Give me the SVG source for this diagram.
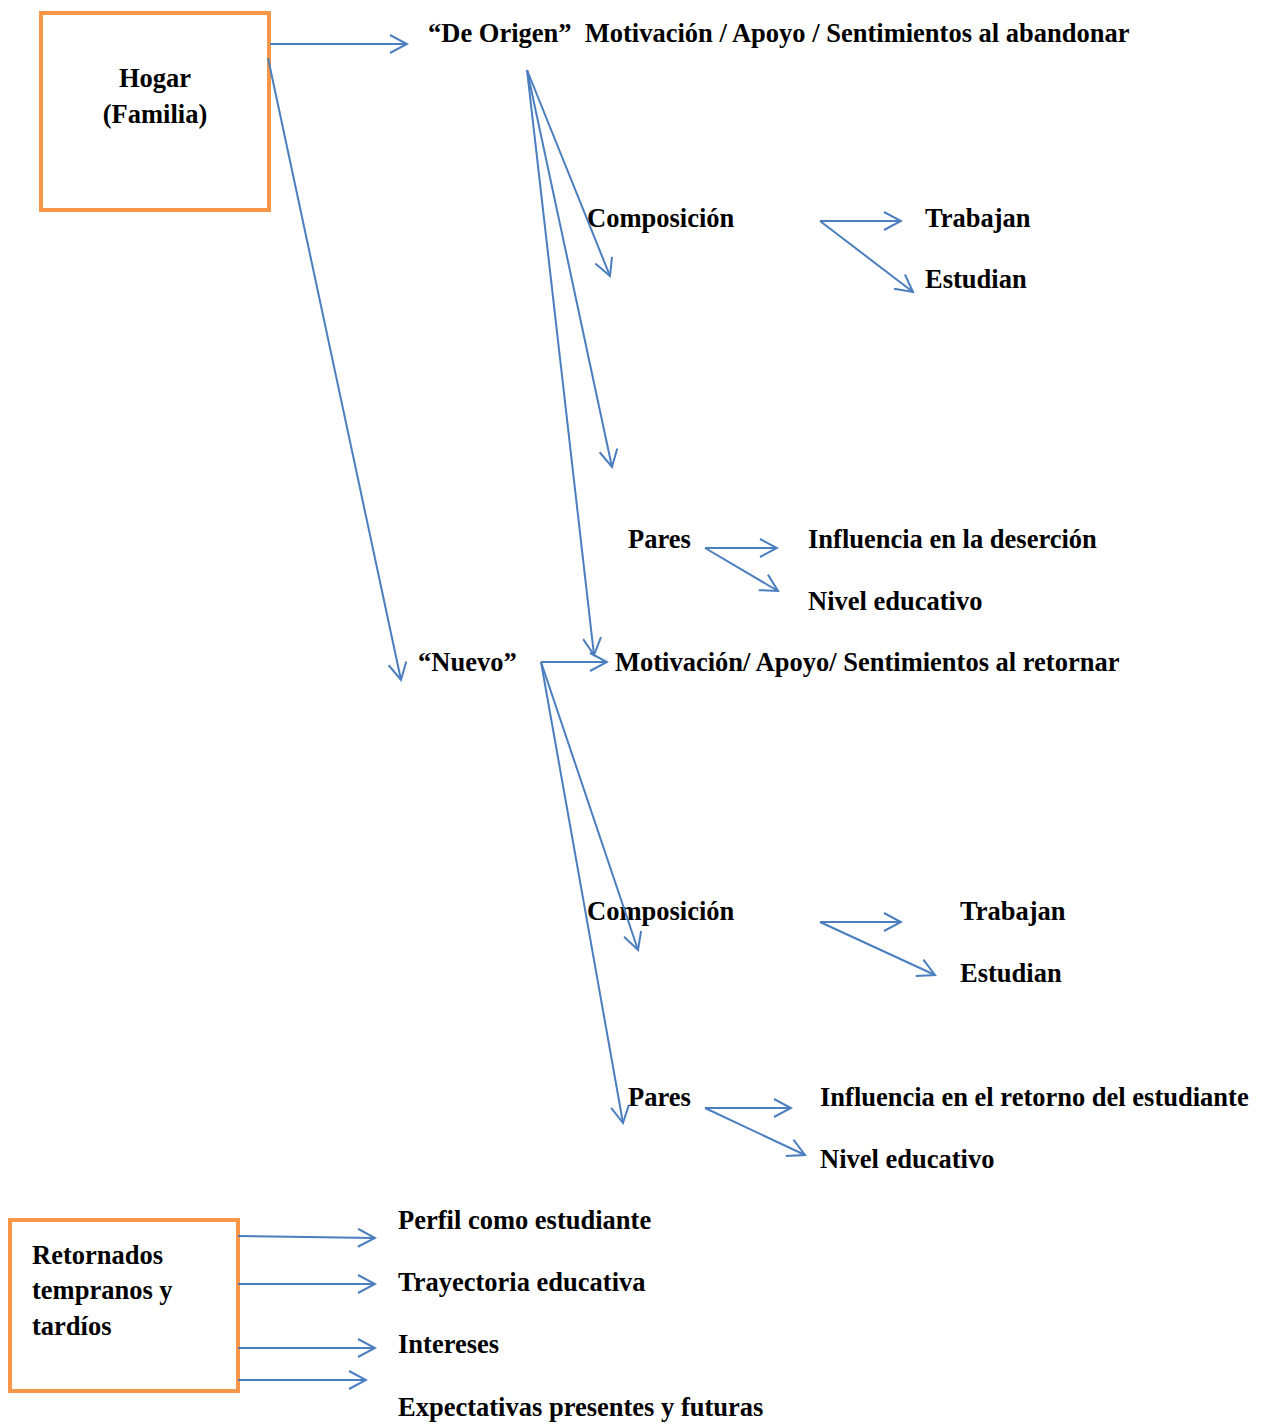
<svg xmlns="http://www.w3.org/2000/svg" width="1264" height="1425" viewBox="0 0 1264 1425">
<style>
.t{font-family:"Liberation Serif","Times New Roman",serif;font-weight:bold;font-size:26.5px;fill:#000;white-space:pre}
.box{fill:#fff;stroke:#F79646;stroke-width:4}
.c line{stroke:#4A7EBF;stroke-width:2;marker-end:url(#ah)}
</style>
<defs>
<marker id="ah" viewBox="0 0 20 20" refX="18" refY="10" markerWidth="20" markerHeight="20" markerUnits="userSpaceOnUse" orient="auto">
<path d="M1,1 L18,10 L1,19" fill="none" stroke="#4A7EBF" stroke-width="2"/>
</marker>
</defs>
<rect width="1264" height="1425" fill="#fff"/>
<g id="hogar"><rect class="box" x="41" y="13" width="228" height="197"/><text class="t" x="155" y="87" text-anchor="middle">Hogar</text><text class="t" x="155" y="123" text-anchor="middle">(Familia)</text></g>
<g id="origen"><text class="t" x="428" y="42" xml:space="preserve">“De Origen”  Motivación / Apoyo / Sentimientos al abandonar</text></g>
<g id="comp1"><text class="t" x="587" y="227">Composición</text></g>
<g id="trab1"><text class="t" x="925" y="227">Trabajan</text></g>
<g id="est1"><text class="t" x="925" y="288">Estudian</text></g>
<g id="pares1"><text class="t" x="628" y="548">Pares</text></g>
<g id="infl1"><text class="t" x="808" y="548">Influencia en la deserción</text></g>
<g id="nivel1"><text class="t" x="808" y="610">Nivel educativo</text></g>
<g id="nuevo"><text class="t" x="418" y="671">“Nuevo”</text></g>
<g id="motret"><text class="t" x="615" y="671">Motivación/ Apoyo/ Sentimientos al retornar</text></g>
<g id="comp2"><text class="t" x="587" y="920">Composición</text></g>
<g id="trab2"><text class="t" x="960" y="920">Trabajan</text></g>
<g id="est2"><text class="t" x="960" y="982">Estudian</text></g>
<g id="pares2"><text class="t" x="628" y="1106">Pares</text></g>
<g id="infl2"><text class="t" x="820" y="1106">Influencia en el retorno del estudiante</text></g>
<g id="nivel2"><text class="t" x="820" y="1168">Nivel educativo</text></g>
<g id="retornados"><rect class="box" x="10" y="1220" width="228" height="171"/><text class="t" x="32" y="1264">Retornados</text><text class="t" x="32" y="1299">tempranos y</text><text class="t" x="32" y="1335">tardíos</text></g>
<g id="perfil"><text class="t" x="398" y="1229">Perfil como estudiante</text></g>
<g id="trayectoria"><text class="t" x="398" y="1291">Trayectoria educativa</text></g>
<g id="intereses"><text class="t" x="398" y="1353">Intereses</text></g>
<g id="expectativas"><text class="t" x="398" y="1416">Expectativas presentes y futuras</text></g>
<g class="c" id="connectors">
<line x1="270" y1="44" x2="407" y2="44"/>
<line x1="268" y1="58" x2="401" y2="680"/>
<line x1="527" y1="70" x2="610" y2="276"/>
<line x1="527" y1="70" x2="612" y2="467"/>
<line x1="527" y1="70" x2="594" y2="655"/>
<line x1="820" y1="221" x2="901" y2="221"/>
<line x1="820" y1="221" x2="913" y2="292"/>
<line x1="705" y1="548" x2="777" y2="548"/>
<line x1="705" y1="548" x2="778" y2="591"/>
<line x1="541" y1="662" x2="607" y2="662"/>
<line x1="541" y1="662" x2="638" y2="950"/>
<line x1="541" y1="662" x2="623" y2="1123"/>
<line x1="820" y1="922" x2="901" y2="922"/>
<line x1="820" y1="922" x2="935" y2="975"/>
<line x1="705" y1="1108" x2="791" y2="1108"/>
<line x1="705" y1="1108" x2="805" y2="1155"/>
<line x1="238" y1="1236" x2="375" y2="1238"/>
<line x1="238" y1="1284" x2="375" y2="1284"/>
<line x1="238" y1="1348" x2="375" y2="1348"/>
<line x1="238" y1="1380" x2="366" y2="1380"/>
</g>
</svg>
